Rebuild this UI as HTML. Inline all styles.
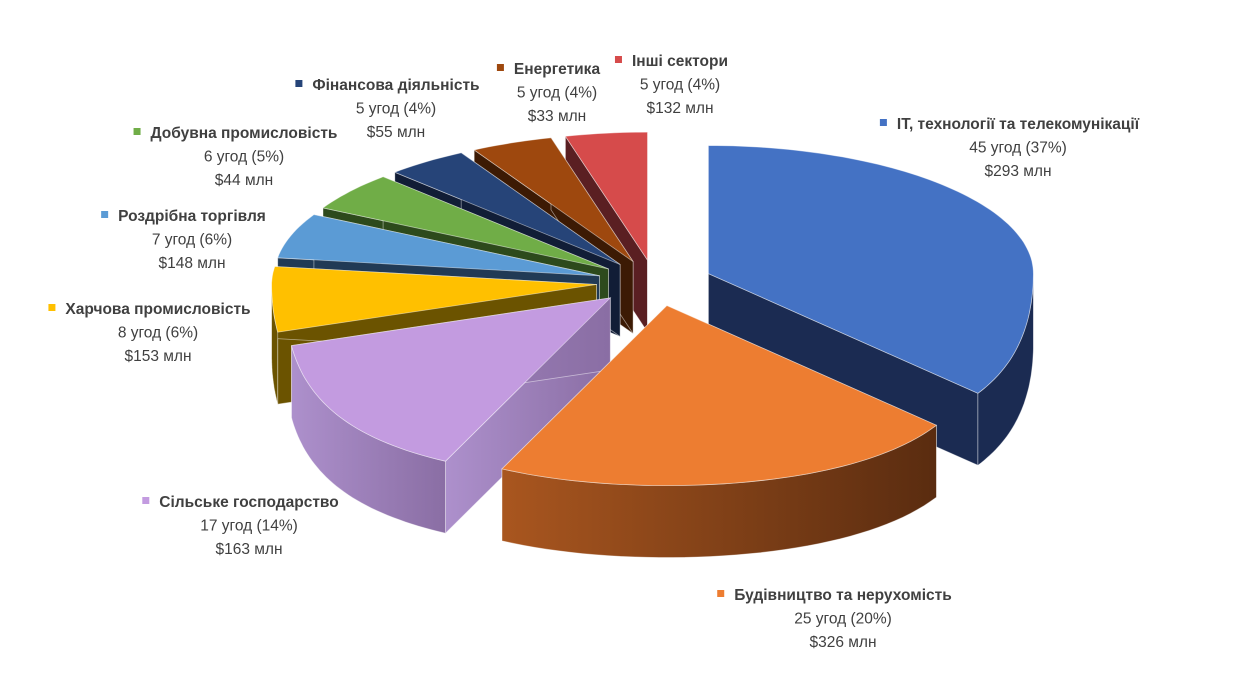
<!DOCTYPE html>
<html><head><meta charset="utf-8"><style>
html,body{margin:0;padding:0;background:#fff;}
svg{display:block;font-family:"Liberation Sans","DejaVu Sans",sans-serif;}
</style></head><body>
<svg id="chart" width="1243" height="677" viewBox="0 0 1243 677">
<defs>
<linearGradient id="gOrange" x1="0" x2="1" y1="0" y2="0"><stop offset="0" stop-color="#a9561f"/><stop offset="1" stop-color="#5a2c10"/></linearGradient>
<linearGradient id="gPurple" x1="0" x2="1" y1="0" y2="0"><stop offset="0" stop-color="#ad90cc"/><stop offset="1" stop-color="#8a6ea4"/></linearGradient>
</defs>
<g id="sides"></g>
<g id="tops"></g>
<g id="labels"></g>
</svg>
<script>
const categories = ["IT, технології та телекомунікації","Будівництво та нерухомість","Сільське господарство","Харчова промисловість","Роздрібна торгівля","Добувна промисловість","Фінансова діяльність","Енергетика","Інші сектори"];
const deals = [45,25,17,8,7,6,5,5,5];
const percents = [37,20,14,6,6,5,4,4,4];
const amounts = [293,326,163,153,148,44,55,33,132];
const topColors = ["#4472C4","#ED7D31","#C39BE0","#FFC000","#5B9BD5","#70AD47","#264478","#9E480E","#D64B4B"];
const sideColors = ["#1b2b52","url(#gOrange)","url(#gPurple)","#6b5300","#213a55","#2d4a1c","#111d36","#3c1a04","#5a1f22"];
const labelPos = [[1018,129],[843,600],[249,507],[158,314],[192,221],[244,138],[396,90],[557,74],[680,66]];

const CX=655, CY=283, RX=325, RYT=128, RYB=180, KX=0.25, DEPTH=72, EXP=0.18;
const NS="http://www.w3.org/2000/svg";
const total = deals.reduce((a,b)=>a+b,0);
const rad = d=>d*Math.PI/180;
function pt(c,t,dy){const co=Math.cos(t);const ry=co>0?RYT:RYB;const f=Math.max(0,-co);const rx=RX*(1+KX*f*f);return [c[0]+rx*Math.sin(t), c[1]-ry*co+(dy||0)];}
function arc(c,a,b,dy,steps){let s=[];for(let i=0;i<=steps;i++){const t=a+(b-a)*i/steps;s.push(pt(c,t,dy));}return s;}
function P(pts){return "M"+pts.map(p=>p[0].toFixed(1)+","+p[1].toFixed(1)).join("L")+"Z";}
function mk(parent,d,fill,name){const e=document.createElementNS(NS,"path");e.setAttribute("d",d);e.setAttribute("fill",fill);e.setAttribute("stroke","rgba(255,255,255,0.5)");e.setAttribute("stroke-width","0.8");


parent.appendChild(e);return e;}

let slices=[];let acc=0;
deals.forEach((v,i)=>{const a=rad(acc/total*360);acc+=v;const b=rad(acc/total*360);const m=(a+b)/2;
const c=[CX+EXP*RX*Math.sin(m), CY-EXP*RYT*Math.cos(m)];slices.push({i,a,b,m,c});});
const sides=document.getElementById("sides"), tops=document.getElementById("tops");
slices.slice().sort((p,q)=>(-Math.cos(p.m))-(-Math.cos(q.m))).forEach(s=>{
  const c=s.c, col=sideColors[s.i];
  [s.a,s.b].forEach((t,k)=>{const p=pt(c,t);mk(sides,P([c,p,[p[0],p[1]+DEPTH],[c[0],c[1]+DEPTH]]),col,"slice-wall-"+s.i+"-"+k);});
  const lo=Math.max(s.a,rad(90)), hi=Math.min(s.b,rad(270));
  if(hi>lo){const top=arc(c,lo,hi,0,40), bot=arc(c,hi,lo,DEPTH,40);mk(sides,P(top.concat(bot)),col,"slice-outer-wall-"+s.i);}
});
slices.forEach(s=>{const steps=Math.max(8,Math.round((s.b-s.a)*40));
  mk(tops,P([s.c].concat(arc(s.c,s.a,s.b,0,steps))),topColors[s.i],"slice-"+s.i);});
const L=document.getElementById("labels");
categories.forEach((name,i)=>{
  const g=document.createElementNS(NS,"g");
  
  
  const [x,y]=labelPos[i];
  const lines=[[name,"bold"],[deals[i]+" угод ("+percents[i]+"%)","normal"],["$"+amounts[i]+" млн","normal"]];
  let nameW=0;
  lines.forEach((ln,k)=>{const t=document.createElementNS(NS,"text");t.setAttribute("x",x);t.setAttribute("y",y+k*23.5);
    t.setAttribute("text-anchor","middle");t.setAttribute("font-size","15.5");t.setAttribute("font-weight",ln[1]);t.setAttribute("fill","#404040");
    
    
    t.textContent=ln[0];g.appendChild(t);if(k==0)nameW=ln[0].length*8.3;});
  L.appendChild(g);
  const tw=g.firstChild.getComputedTextLength?g.firstChild.getComputedTextLength():nameW;
  const r=document.createElementNS(NS,"rect");r.setAttribute("x",x-tw/2-17);r.setAttribute("y",y-10);r.setAttribute("width",7);r.setAttribute("height",7);r.setAttribute("fill",topColors[i]);
  
  
  g.appendChild(r);
});
</script>
</body></html>
